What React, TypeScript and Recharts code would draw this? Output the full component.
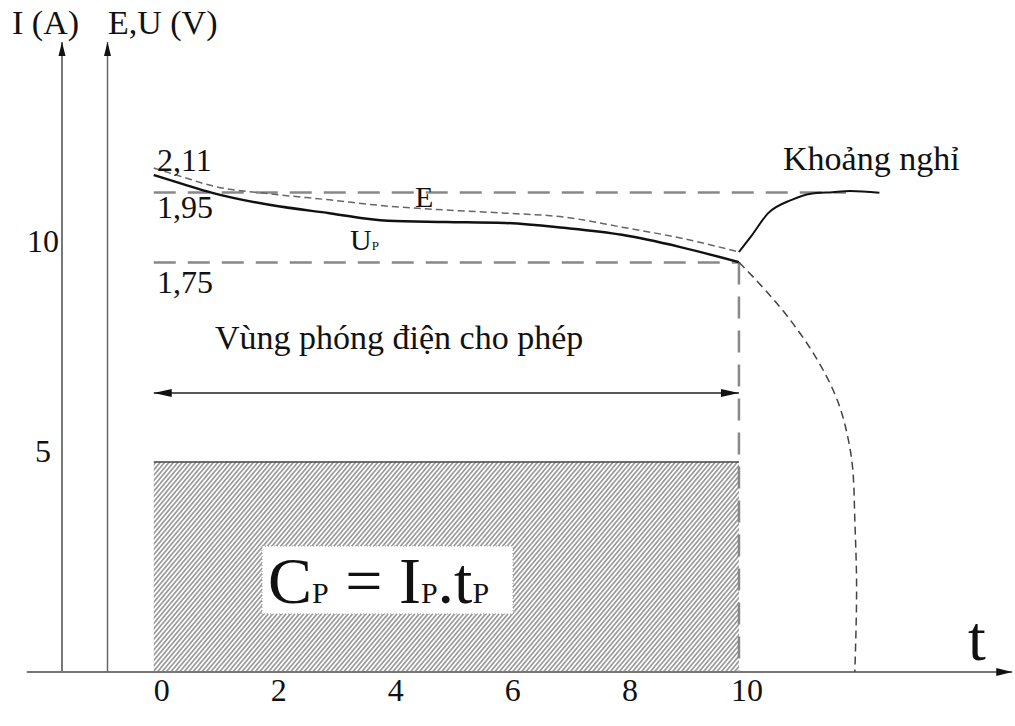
import React from 'react';
import {
  ComposedChart,
  Line,
  Area,
  XAxis,
  YAxis,
  ReferenceLine,
  ReferenceDot,
  ReferenceArea,
} from 'recharts';

// phóng điện: thời gian (h), sức điện động E và điện áp U_P (V / ngăn)
const tDischarge = [0, 0.5, 1, 2, 3, 4, 5, 6, 7, 8, 9, 10];
const eDischarge = [2.02, 1.994, 1.969, 1.946, 1.929, 1.911, 1.9, 1.891, 1.88, 1.851, 1.82, 1.78];
const uDischarge = [2.0, 1.974, 1.949, 1.914, 1.891, 1.869, 1.866, 1.863, 1.849, 1.829, 1.794, 1.751];

// khoảng nghỉ: điện áp hồi phục
const tRest = [10, 10.2, 10.5, 10.9, 11.2, 11.6, 11.9, 12.4];
const uRest = [1.78, 1.823, 1.891, 1.929, 1.946, 1.951, 1.954, 1.949];

// phóng quá mức cho phép
const tOver = [10, 10.7, 11.27, 11.68, 11.87, 11.95, 11.98, 12.01, 11.98];
const uOver = [1.751, 1.623, 1.491, 1.357, 1.243, 1.149, 1.014, 0.823, 0.58];

// dòng phóng I_P (A)
const tCurrent = [0, 10];
const iCurrent = [5, 5];

const tTicks = [0, 2, 4, 6, 8, 10];
const iTicks = [5, 10];

const uNominal = 1.95;
const uCutoff = 1.75;
const tCutoff = 10;

const zip = (ts: number[], vs: number[], key: string) => ts.map((t, k) => ({ t, [key]: vs[k] }));

const eData = zip(tDischarge, eDischarge, 'v');
const uData = zip(tDischarge, uDischarge, 'v');
const restData = zip(tRest, uRest, 'v');
const overData = zip(tOver, uOver, 'v');
const currentData = zip(tCurrent, iCurrent, 'i');

const serif = '"Liberation Serif", "DejaVu Serif", serif';
const X_DOMAIN: [number, number] = [-2.2, 14.7];
const I_DOMAIN: [number, number] = [0, 15];
const V_DOMAIN: [number, number] = [0.58, 2.38];

const arrowHead = (x: number, y: number, ux: number, uy: number, len: number, half: number, fill: string) => {
  const bx = x - ux * len;
  const by = y - uy * len;
  const px = -uy * half;
  const py = ux * half;
  return <polygon points={`${x},${y} ${bx + px},${by + py} ${bx - px},${by - py}`} fill={fill} />;
};

type ArrowOpts = {
  stroke: string;
  width: number;
  dash?: string;
  start?: boolean;
  end?: boolean;
  len?: number;
  half?: number;
};

const arrowLine = (o: ArrowOpts) => (p: any) => {
  const { x1, y1, x2, y2 } = p;
  const d = Math.hypot(x2 - x1, y2 - y1) || 1;
  const ux = (x2 - x1) / d;
  const uy = (y2 - y1) / d;
  const len = o.len ?? 14;
  const half = o.half ?? 3.5;
  return (
    <g>
      <line x1={x1} y1={y1} x2={x2} y2={y2} stroke={o.stroke} strokeWidth={o.width} strokeDasharray={o.dash} />
      {o.end && arrowHead(x2, y2, ux, uy, len, half, '#111')}
      {o.start && arrowHead(x1, y1, -ux, -uy, len, half, '#111')}
    </g>
  );
};

const textAt = (content: React.ReactNode, size: number, anchor: 'start' | 'middle' | 'end' = 'start') => (p: any) => (
  <text x={p.cx} y={p.cy} fontFamily={serif} fontSize={size} fill="#111" textAnchor={anchor}>
    {content}
  </text>
);

const TimeTick = (p: any) => (
  <text x={p.x + 8} y={p.y + 21} textAnchor="middle" fontFamily={serif} fontSize={32} fill="#111">
    {p.payload.value}
  </text>
);

// nhãn trục I nằm giữa mép trái và trục I
const CurrentTick = (p: any) => (
  <text x={43} y={p.y} textAnchor="middle" fontFamily={serif} fontSize={32} fill="#111">
    {p.payload.value}
  </text>
);

const formulaBox = (p: any) => {
  const { x, y, width, height } = p;
  return (
    <g>
      <rect x={x} y={y} width={width} height={height} fill="#fff" stroke="#999" strokeDasharray="1 2" />
      <text x={x + 6} y={y + 57} fontFamily={serif} fontSize={66} fill="#111">
        C<tspan fontSize={30}>P</tspan> = I<tspan fontSize={30}>P</tspan>.t<tspan fontSize={30}>P</tspan>
      </text>
    </g>
  );
};

// vị trí các trục phụ (theo t)
const axisI = -1.568;
const axisV = -0.79;
const arrowLevel = 6.64;

const App: React.FC = () => {
  return (
    <div style={{ position: 'absolute', left: 0, top: 0, background: '#fff' }}>
      <ComposedChart width={1015} height={726} margin={{ top: 42, right: 1, bottom: 24, left: 25 }}>
        <defs>
          <pattern id="hatch" patternUnits="userSpaceOnUse" width="3.4" height="10" patternTransform="rotate(40)">
            <line x1="1.7" y1="0" x2="1.7" y2="10" stroke="#555" strokeWidth="1" />
          </pattern>
        </defs>
        <XAxis
          type="number"
          dataKey="t"
          domain={X_DOMAIN}
          allowDataOverflow
          ticks={tTicks}
          axisLine={false}
          tickLine={false}
          height={30}
          tick={TimeTick}
          interval={0}
        />
        <YAxis
          yAxisId="i"
          type="number"
          domain={I_DOMAIN}
          allowDataOverflow
          ticks={iTicks}
          axisLine={false}
          tickLine={false}
          mirror
          width={40}
          tick={CurrentTick}
          interval={0}
        />
        <YAxis yAxisId="v" type="number" domain={V_DOMAIN} allowDataOverflow hide />

        <Area
          yAxisId="i"
          data={currentData}
          dataKey="i"
          type="linear"
          stroke="#444"
          strokeWidth={1.5}
          fill="url(#hatch)"
          fillOpacity={1}
          isAnimationActive={false}
        />
        <ReferenceArea yAxisId="i" x1={1.85} x2={6.139} y1={1.381} y2={3.0} shape={formulaBox} zIndex={150} />

        {/* trục */}
        <ReferenceLine
          yAxisId="i"
          segment={[{ x: X_DOMAIN[0] + 0.03, y: 0 }, { x: X_DOMAIN[1] - 0.03, y: 0 }]}
          shape={arrowLine({ stroke: '#777', width: 2, end: true, len: 16, half: 4 })}
        />
        <ReferenceLine
          yAxisId="i"
          segment={[{ x: axisI, y: 0 }, { x: axisI, y: 15 }]}
          shape={arrowLine({ stroke: '#777', width: 2, end: true, len: 14, half: 3.5 })}
        />
        <ReferenceLine
          yAxisId="i"
          segment={[{ x: axisV, y: 0 }, { x: axisV, y: 15 }]}
          shape={arrowLine({ stroke: '#666', width: 1.5, end: true, len: 14, half: 3.5 })}
        />
        <ReferenceLine
          yAxisId="i"
          segment={[{ x: 0, y: 0 }, { x: 0, y: 15.05 }]}
          shape={arrowLine({ stroke: '#666', width: 1.5 })}
        />

        {/* mức điện áp */}
        <ReferenceLine
          yAxisId="v"
          segment={[{ x: 0, y: uNominal }, { x: 11.83, y: uNominal }]}
          shape={arrowLine({ stroke: '#888', width: 2.5, dash: '22 12' })}
        />
        <ReferenceLine
          yAxisId="v"
          segment={[{ x: 0, y: uCutoff }, { x: tCutoff, y: uCutoff }]}
          shape={arrowLine({ stroke: '#888', width: 2.5, dash: '22 12' })}
        />
        <ReferenceLine
          yAxisId="v"
          segment={[{ x: tCutoff, y: uCutoff }, { x: tCutoff, y: V_DOMAIN[0] }]}
          shape={arrowLine({ stroke: '#888', width: 2.5, dash: '22 12' })}
        />
        <ReferenceLine
          yAxisId="i"
          segment={[{ x: 0, y: arrowLevel }, { x: tCutoff, y: arrowLevel }]}
          shape={arrowLine({ stroke: '#222', width: 1.5, start: true, end: true, len: 18, half: 4 })}
        />

        <Line
          yAxisId="v"
          data={eData}
          dataKey="v"
          type="monotone"
          stroke="#666"
          strokeWidth={1.5}
          strokeDasharray="7 4"
          dot={false}
          isAnimationActive={false}
        />
        <Line
          yAxisId="v"
          data={uData}
          dataKey="v"
          type="monotone"
          stroke="#111"
          strokeWidth={2.5}
          dot={false}
          isAnimationActive={false}
        />
        <Line
          yAxisId="v"
          data={restData}
          dataKey="v"
          type="monotone"
          stroke="#111"
          strokeWidth={2}
          dot={false}
          isAnimationActive={false}
        />
        <Line
          yAxisId="v"
          data={overData}
          dataKey="v"
          type="monotoneY"
          stroke="#444"
          strokeWidth={1.5}
          strokeDasharray="8 5"
          dot={false}
          isAnimationActive={false}
        />

        {/* chữ */}
        <ReferenceDot yAxisId="i" x={-2.422} y={15.19} r={0} ifOverflow="visible" shape={textAt('I (A)', 34)} />
        <ReferenceDot yAxisId="i" x={-0.782} y={15.19} r={0} ifOverflow="visible" shape={textAt('E,U (V)', 34)} />
        <ReferenceDot yAxisId="v" x={0.056} y={2.011} r={0} shape={textAt('2,11', 32)} />
        <ReferenceDot yAxisId="v" x={0.056} y={1.877} r={0} shape={textAt('1,95', 32)} />
        <ReferenceDot yAxisId="v" x={0.056} y={1.663} r={0} shape={textAt('1,75', 32)} />
        <ReferenceDot yAxisId="v" x={4.464} y={1.909} r={0} shape={textAt('E', 30)} />
        <ReferenceDot
          yAxisId="v"
          x={3.354}
          y={1.786}
          r={0}
          shape={textAt(
            <>
              U<tspan fontSize={13}>P</tspan>
            </>,
            30
          )}
        />
        <ReferenceDot yAxisId="v" x={10.753} y={2.014} r={0} shape={textAt('Khoảng nghỉ', 34)} />
        <ReferenceDot yAxisId="i" x={1.047} y={7.69} r={0} shape={textAt('Vùng phóng điện cho phép', 34)} />
        <ReferenceDot yAxisId="i" x={13.914} y={0.286} r={0} shape={textAt('t', 64)} />
      </ComposedChart>
    </div>
  );
};

export default App;
